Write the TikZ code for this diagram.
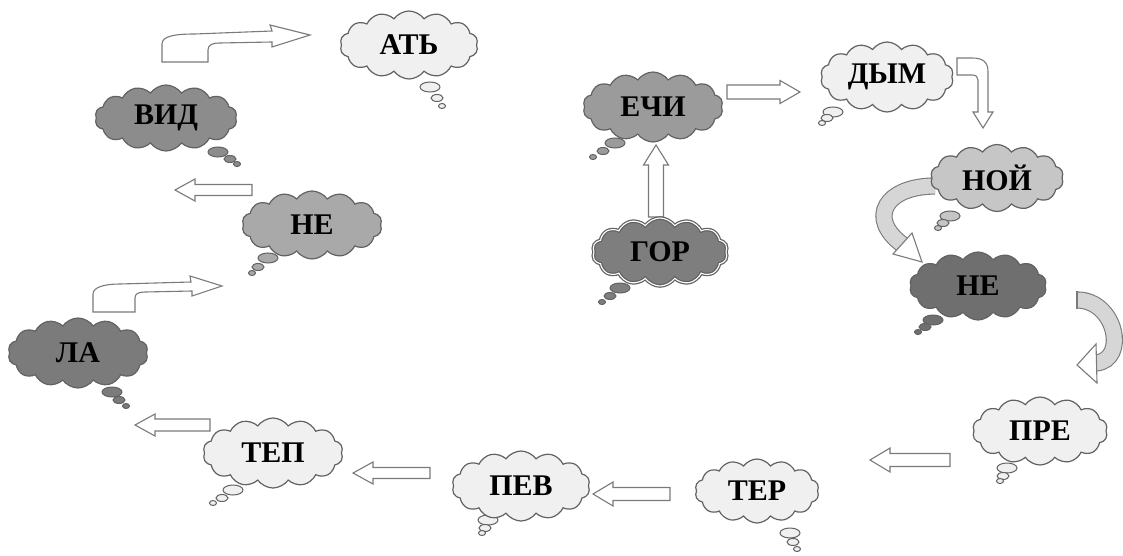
\documentclass[tikz,border=0pt]{standalone}
\usepackage{fontspec}
\setmainfont{Liberation Serif}
\usetikzlibrary{shapes.symbols}
\definecolor{lightc}{HTML}{F0F0F0}
\definecolor{edgec}{HTML}{626262}
\definecolor{arrc}{HTML}{7A7A7A}
\definecolor{bandc}{HTML}{D6D6D6}
\definecolor{vidc}{HTML}{8C8C8C}
\definecolor{neac}{HTML}{A9A9A9}
\definecolor{lac}{HTML}{7B7B7B}
\definecolor{nebc}{HTML}{6F6F6F}
\definecolor{nojc}{HTML}{C6C6C6}
\definecolor{echic}{HTML}{9B9B9B}
\definecolor{gorc}{HTML}{7E7E7E}
\newcommand\barrow[6]{%
  \draw[blk, shift={(#1,#2)}, rotate=#4] (0,-#5) -- (#3-20,-#5) -- (#3-20,-#6) -- (#3,0) -- (#3-20,#6) -- (#3-20,#5) -- (0,#5) -- cycle;}
\newcommand\tailb[7]{%
  \draw[bubble=#1] (#2,#3) ellipse (10 and 5);
  \draw[bubble=#1] (#4,#5) ellipse (6 and 3.5);
  \draw[bubble=#1] (#6,#7) ellipse (3.5 and 2.5);}
\tikzset{
  thought/.style={cloud, cloud puffs=14, cloud puff arc=110, cloud ignores aspect,
    draw=edgec, line width=1.2pt, fill=#1, inner sep=0pt, text=black,
    font=\fontsize{30}{32}\selectfont\bfseries},
  bubble/.style={draw=edgec, line width=1pt, fill=#1},
  blk/.style={draw=arrc, line width=1.1pt, fill=white, line join=miter},
  band/.style={draw=arrc, line width=1.1pt, double=bandc, double distance=15pt},
}
\begin{document}
\begin{tikzpicture}[x=1pt, y=-1pt]
\fill[white] (0,0) rectangle (1123,556);
\useasboundingbox (0,0) rectangle (1123,556);

% straight block arrows
\barrow{252}{190}{77}{180}{5.5}{11}
\barrow{210}{425}{75}{180}{6}{11}
\barrow{430}{473}{77}{180}{5.5}{11}
\barrow{670}{494}{77}{180}{6.5}{12}
\barrow{950}{460}{80}{180}{6.5}{12}
\barrow{656}{217}{72}{90}{7.5}{12.5}
\barrow{727}{92}{73}{0}{7}{11.5}

% bent arrows
\draw[blk] (162,62) -- (162,44) .. controls (162,36) and (175,34) .. (195,34) -- (272,31) -- (270,25) -- (310,35) -- (272,47) -- (272,42) -- (220,43) .. controls (212,43) and (208,45) .. (208,50) -- (208,62) -- cycle;
\draw[blk] (93,312) -- (93,294) .. controls (93,287) and (105,284) .. (120,284) -- (191,282) -- (190,276) -- (222,286) -- (192,296) -- (192,291) -- (145,292) .. controls (138,292) and (135,294) .. (135,298) -- (135,312) -- cycle;
\draw[blk] (957,58) -- (972,58) .. controls (983,58) and (988,62) .. (988,72) -- (988,112) -- (993,112) -- (983,128) -- (973,112) -- (978,112) -- (978,80) .. controls (978,77) and (976,75) .. (972,75) -- (957,75) -- cycle;

% curved arrows
\draw[band] (935,186) .. controls (886,186) and (866,218) .. (903,245);
\draw[blk] (893,254) -- (912,233) -- (922,262) -- cycle;
\draw[band] (1077,300) .. controls (1116,300) and (1128,360) .. (1096,363);
\draw[blk] (1096,344) -- (1097,383) -- (1077,365) -- cycle;
\draw[arrc, line width=1.1pt] (1077,291) -- (1077,309);

% thought bubble tails
\tailb{lightc}{430}{87}{437}{98}{442}{106}
\tailb{vidc}{218}{152}{230}{159}{237}{164}
\tailb{neac}{268}{258}{258}{267}{252}{273}
\tailb{lac}{112}{392}{119}{400}{126}{406}
\tailb{lightc}{233}{490}{222}{498}{213}{503}
\tailb{lightc}{488}{520}{485}{528}{482}{533}
\tailb{lightc}{790}{533}{793}{542}{797}{549}
\tailb{lightc}{1007}{468}{1003}{476}{1000}{481}
\tailb{nebc}{933}{320}{925}{327}{918}{332}
\tailb{nojc}{950}{216}{943}{223}{938}{228}
\tailb{lightc}{833}{112}{827}{118}{822}{123}
\tailb{echic}{615}{143}{603}{151}{593}{157}
\tailb{gorc}{620}{288}{610}{296}{602}{302}

% clouds
\node[thought=lightc, minimum width=138pt, minimum height=68pt] (ath) at (409,45) {АТЬ};
\node[thought=vidc, minimum width=142pt, minimum height=66pt] (vid) at (166,118) {ВИД};
\node[thought=neac, minimum width=140pt, minimum height=68pt] (ne1) at (312,225) {НЕ};
\node[thought=lac, minimum width=140pt, minimum height=70pt] (la) at (78,353) {ЛА};
\node[thought=lightc, minimum width=140pt, minimum height=70pt] (tep) at (273,453) {ТЕП};
\node[thought=lightc, minimum width=138pt, minimum height=70pt] (pev) at (521,486) {ПЕВ};
\node[thought=lightc, minimum width=124pt, minimum height=64pt] (ter) at (757,491) {ТЕР};
\node[thought=lightc, minimum width=135pt, minimum height=68pt] (pre) at (1040,431) {ПРЕ};
\node[thought=nebc, minimum width=137pt, minimum height=68pt] (ne2) at (978,286) {НЕ};
\node[thought=nojc, minimum width=133pt, minimum height=67pt] (noj) at (997,178) {НОЙ};
\node[thought=lightc, minimum width=133pt, minimum height=70pt] (dym) at (887,77) {ДЫМ};
\node[thought=echic, minimum width=140pt, minimum height=70pt] (echi) at (653,107) {ЕЧИ};
\node[thought=gorc, minimum width=135pt, minimum height=68pt, line width=3.6pt] (gor) at (660,252) {ГОР};
\node[cloud, cloud puffs=14, cloud puff arc=110, cloud ignores aspect, inner sep=0pt, minimum width=135pt, minimum height=68pt, draw=white, line width=1.1pt] (gorline) at (gor.center) {};
\end{tikzpicture}
\end{document}
